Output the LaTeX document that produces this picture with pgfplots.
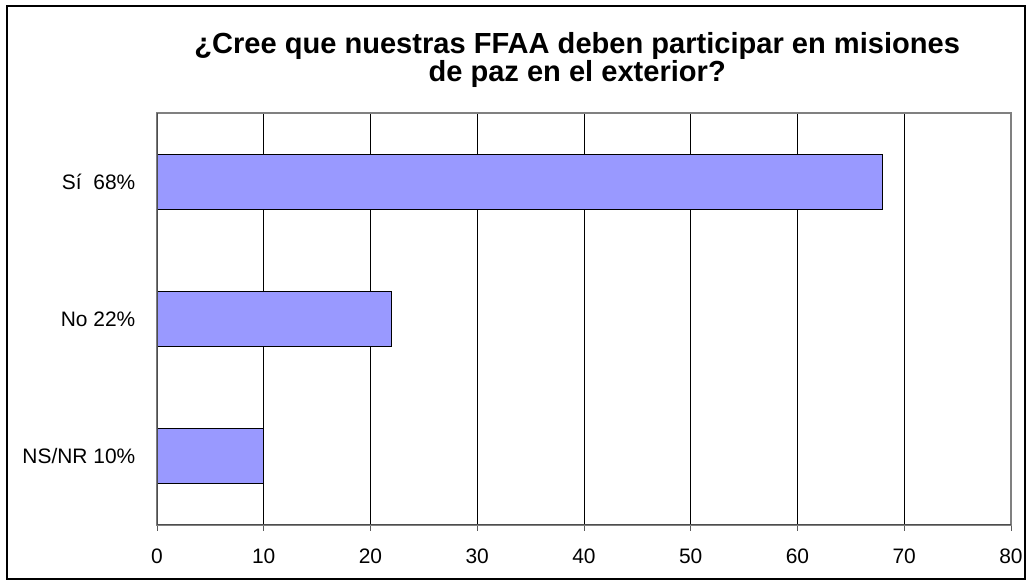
\documentclass[border=0pt]{standalone}
\usepackage{pgfplots}
\pgfplotsset{compat=1.18}
\usepackage{fontspec}
\setmainfont{Liberation Sans}
\definecolor{barBlue}{HTML}{9999FF}
\definecolor{axGray}{HTML}{808080}

\begin{document}
\begin{tikzpicture}[x=0.75pt,y=0.75pt]
% picture size 1027 x 581 px, origin at the axis corner (157,525)
\useasboundingbox (-157,-56) rectangle (870,525);
\draw[black, line width=1.2pt] (-150,-54) rectangle (868,519);
\begin{axis}[
    at={(0,0)}, anchor=south west,
    scale only axis,
    width=640.5pt, height=309pt,
    xmin=0, xmax=80,
    ymin=-0.5, ymax=2.5,
    xtick={0,10,...,80},
    ytick={0,1,2},
    yticklabels={NS/NR 10\%, No 22\%, Sí\ \ 68\%},
    minor ytick={-0.5,0.5,1.5,2.5},
    xmajorgrids,
    major grid style={black, line width=0.6pt},
    ytick style={draw=none},
    minor tick length=7pt*0.75,
    major tick length=6pt*0.75,
    tick align=outside,
    xtick pos=bottom, ytick pos=left,
    minor y tick style={axGray!70!black, line width=0.6pt},
    x tick style={axGray!70!black, line width=0.6pt},
    axis line style={axGray, line width=0.8pt},
    /pgf/number format/assume math mode=true,
    tick label style={font=\fontsize{15.7}{18}\selectfont},
    yticklabel style={xshift=-8.25pt},
    xticklabel style={yshift=-9.75pt},
    title={¿Cree que nuestras FFAA deben participar en misiones\\de paz en el exterior?},
    title style={at={(0.492,1)}, anchor=base, yshift=17.25pt, align=center,
        font=\bfseries\fontsize{21.8}{21}\selectfont},
    xbar, bar width=0.4,
]
\addplot[fill=barBlue, draw=black, line width=0.6pt] coordinates {
    (10,0) (22,1) (68,2)
};
\draw[axGray!60!black, line width=0.8pt] (rel axis cs:0,0) -- (rel axis cs:1,0);
\draw[axGray!60!black, line width=0.8pt] (rel axis cs:0,0) -- (rel axis cs:0,1);
\end{axis}
\end{tikzpicture}
\end{document}
